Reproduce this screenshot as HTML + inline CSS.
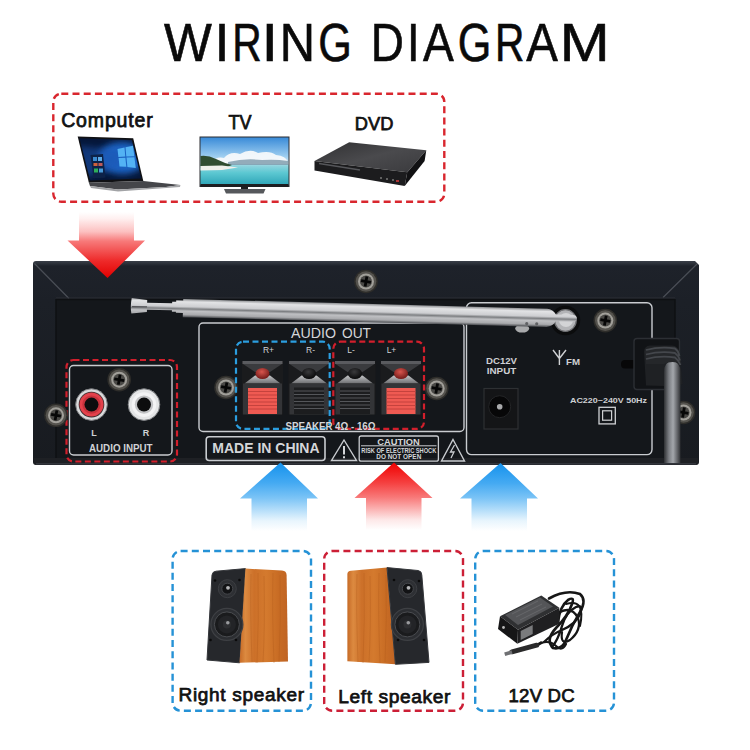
<!DOCTYPE html>
<html><head><meta charset="utf-8">
<style>
html,body{margin:0;padding:0;background:#fff;width:750px;height:750px;overflow:hidden}
svg{display:block;font-family:"Liberation Sans",sans-serif}
</style></head>
<body>
<svg width="750" height="750" viewBox="0 0 750 750">
<defs>
  <linearGradient id="gRedDown" x1="0" y1="0" x2="0" y2="1" gradientUnits="objectBoundingBox">
    <stop offset="0" stop-color="#fff"/>
    <stop offset="0.1" stop-color="#fff0f0"/>
    <stop offset="0.3" stop-color="#fcc0c0"/>
    <stop offset="0.44" stop-color="#f77a7a"/>
    <stop offset="0.74" stop-color="#ee2a2a"/>
    <stop offset="1" stop-color="#e20000"/>
  </linearGradient>
  <linearGradient id="gBlueUp" x1="0" y1="1" x2="0" y2="0">
    <stop offset="0" stop-color="#fff"/>
    <stop offset="0.15" stop-color="#e8f5fd"/>
    <stop offset="0.48" stop-color="#7cc4f6"/>
    <stop offset="0.7" stop-color="#45aaf2"/>
    <stop offset="1" stop-color="#1592ed"/>
  </linearGradient>
  <linearGradient id="gRedUp" x1="0" y1="1" x2="0" y2="0">
    <stop offset="0" stop-color="#fff"/>
    <stop offset="0.15" stop-color="#fde8e8"/>
    <stop offset="0.48" stop-color="#f87a7a"/>
    <stop offset="0.7" stop-color="#f54040"/>
    <stop offset="1" stop-color="#f00000"/>
  </linearGradient>
  <linearGradient id="gPanelTop" x1="0" y1="0" x2="0" y2="1">
    <stop offset="0" stop-color="#3a3f48"/>
    <stop offset="0.025" stop-color="#1e222a"/>
    <stop offset="0.2" stop-color="#1c2027"/>
    <stop offset="1" stop-color="#181b20"/>
  </linearGradient>
  <linearGradient id="gRod" x1="0" y1="0" x2="0" y2="1">
    <stop offset="0" stop-color="#8e9093"/>
    <stop offset="0.15" stop-color="#e2e3e5"/>
    <stop offset="0.42" stop-color="#cdced1"/>
    <stop offset="0.54" stop-color="#7d7f82"/>
    <stop offset="0.66" stop-color="#bfc0c3"/>
    <stop offset="0.86" stop-color="#a9aaad"/>
    <stop offset="1" stop-color="#4a4c50"/>
  </linearGradient>
  <radialGradient id="gScrew" cx="0.45" cy="0.4" r="0.6">
    <stop offset="0" stop-color="#8e8b84"/>
    <stop offset="0.7" stop-color="#5d5a55"/>
    <stop offset="1" stop-color="#2a2a2a"/>
  </radialGradient>

  <linearGradient id="gSky" x1="0" y1="0" x2="0" y2="1">
    <stop offset="0" stop-color="#3a8bd8"/>
    <stop offset="0.4" stop-color="#9ccdf0"/>
    <stop offset="0.55" stop-color="#d8ecf6"/>
    <stop offset="0.6" stop-color="#8fd4de"/>
    <stop offset="0.75" stop-color="#5cc8d2"/>
    <stop offset="1" stop-color="#2fa6b8"/>
  </linearGradient>
  <radialGradient id="gWin" cx="0.72" cy="0.45" r="0.55">
    <stop offset="0" stop-color="#9fe0ff"/>
    <stop offset="0.35" stop-color="#2b8ee0"/>
    <stop offset="1" stop-color="#0a2a6a"/>
  </radialGradient>
  <linearGradient id="gDvdTop" x1="0" y1="0" x2="1" y2="1">
    <stop offset="0" stop-color="#303032"/>
    <stop offset="0.5" stop-color="#4a4a4d"/>
    <stop offset="1" stop-color="#3a3a3d"/>
  </linearGradient>
  <linearGradient id="gWood" x1="0" y1="0" x2="1" y2="0">
    <stop offset="0" stop-color="#c66a26"/>
    <stop offset="0.12" stop-color="#dc8a40"/>
    <stop offset="0.3" stop-color="#cc7029"/>
    <stop offset="0.55" stop-color="#d47a2e"/>
    <stop offset="0.8" stop-color="#c86c24"/>
    <stop offset="1" stop-color="#c06424"/>
  </linearGradient>
  <radialGradient id="gCone" cx="0.5" cy="0.5" r="0.5">
    <stop offset="0" stop-color="#0c0c0c"/>
    <stop offset="0.35" stop-color="#3a3a3a"/>
    <stop offset="0.75" stop-color="#1c1c1c"/>
    <stop offset="1" stop-color="#555"/>
  </radialGradient>
  <g id="woodgrain">
    <path d="M7 4 Q6 40 8 92 M14 3 Q15 50 13 93 M20 6 Q21 60 19 92 M29 3 Q28 45 30 93 M36 5 Q37 50 35 92" fill="none" stroke="#b0581a" stroke-width="1" opacity="0.35"/>
  </g>
  <g id="screw">
    <circle r="11.8" fill="#2e2d2a"/>
    <circle r="10.3" fill="#55534e"/>
    <circle r="8" fill="#a19f99"/>
    <circle r="6" fill="#4a4946"/>
    <path d="M-5 -1.4 H5 V1.4 H-5 Z M-1.4 -5 H1.4 V5 H-1.4 Z" fill="#070707" transform="rotate(10)"/>
  </g>
</defs>

<!-- Title -->
<g>
<text transform="translate(164.11 60.8) scale(0.956 1)" font-size="53" fill="#0a0a0a" stroke="#0a0a0a" stroke-width="0.6">W</text>
<text transform="translate(214.50 60.8) scale(1.020 1)" font-size="53" fill="#0a0a0a" stroke="#0a0a0a" stroke-width="0.6">I</text>
<text transform="translate(232.20 60.8) scale(0.768 1)" font-size="53" fill="#0a0a0a" stroke="#0a0a0a" stroke-width="0.6">R</text>
<text transform="translate(261.40 60.8) scale(1.122 1)" font-size="53" fill="#0a0a0a" stroke="#0a0a0a" stroke-width="0.6">I</text>
<text transform="translate(279.73 60.8) scale(0.923 1)" font-size="53" fill="#0a0a0a" stroke="#0a0a0a" stroke-width="0.6">N</text>
<text transform="translate(318.30 60.8) scale(0.815 1)" font-size="53" fill="#0a0a0a" stroke="#0a0a0a" stroke-width="0.6">G</text>
<text transform="translate(370.78 60.8) scale(0.866 1)" font-size="53" fill="#0a0a0a" stroke="#0a0a0a" stroke-width="0.6">D</text>
<text transform="translate(406.90 60.8) scale(0.857 1)" font-size="53" fill="#0a0a0a" stroke="#0a0a0a" stroke-width="0.6">I</text>
<text transform="translate(423.01 60.8) scale(0.872 1)" font-size="53" fill="#0a0a0a" stroke="#0a0a0a" stroke-width="0.6">A</text>
<text transform="translate(457.70 60.8) scale(0.815 1)" font-size="53" fill="#0a0a0a" stroke="#0a0a0a" stroke-width="0.6">G</text>
<text transform="translate(495.00 60.8) scale(0.768 1)" font-size="53" fill="#0a0a0a" stroke="#0a0a0a" stroke-width="0.6">R</text>
<text transform="translate(526.21 60.8) scale(0.895 1)" font-size="53" fill="#0a0a0a" stroke="#0a0a0a" stroke-width="0.6">A</text>
<text transform="translate(559.83 60.8) scale(1.132 1)" font-size="53" fill="#0a0a0a" stroke="#0a0a0a" stroke-width="0.6">M</text>
</g>

<!-- Top dashed box -->
<rect x="53.3" y="93.7" width="391" height="108" rx="8" fill="none" stroke="#d9262e" stroke-width="2.4" stroke-dasharray="7 4.2"/>
<text x="61.2" y="127.4" font-size="19.5" fill="#111" stroke="#111" stroke-width="0.75" textLength="91.5" lengthAdjust="spacing">Computer</text>
<text x="228.6" y="129.3" font-size="19.6" fill="#111" stroke="#111" stroke-width="0.75" textLength="23" lengthAdjust="spacingAndGlyphs">TV</text>
<text x="354.8" y="130" font-size="19" fill="#111" stroke="#111" stroke-width="0.75" textLength="38.6" lengthAdjust="spacingAndGlyphs">DVD</text>

<!-- Panel -->
<path d="M36 261 H695 L699 265 V462 Q699 465 696 465 H36 Q33 465 33 462 V264 Q33 261 36 261 Z" fill="url(#gPanelTop)"/>
<!-- bevel lines -->
<rect x="56" y="299" width="619" height="163" fill="#14171b"/>
<path d="M34.5 263.5 L69 298.5 M697 264 L663 297.5" fill="none" stroke="#4a4e56" stroke-width="1.2"/>
<path d="M56 298 H675" stroke="#2c2f36" stroke-width="1"/>
<path d="M56 299.5 H675" stroke="#0e1013" stroke-width="1.5"/>
<path d="M56 299 V462" stroke="#0e1013" stroke-width="1.5"/>
<path d="M675 299 V462" stroke="#0e1013" stroke-width="1.5"/>
<path d="M34 458 H698 V462 Q698 464.5 695 464.5 H36 Q34 464.5 34 462 Z" fill="#1e2024"/>
<path d="M36 463.8 H696" stroke="#3a3d43" stroke-width="1.2"/>

<!-- Audio input -->
<rect x="66.5" y="360" width="110.5" height="101.5" rx="7" fill="none" stroke="#d21f2c" stroke-width="2.2" stroke-dasharray="6 3.5"/>
<rect x="69.5" y="365.5" width="102.5" height="89.5" rx="4" fill="none" stroke="#c9ccd0" stroke-width="1.4"/>
<use href="#screw" x="56" y="415.3"/>
<use href="#screw" x="119.2" y="379.7"/>
<g transform="translate(91.5 404.6)">
  <circle r="15.8" fill="#d9dadb" stroke="#7d7f82" stroke-width="1"/>
  <circle r="12.8" fill="#3a2a2c"/>
  <circle r="12" fill="#e3414b"/>
  <circle r="9.2" fill="#c8323c"/>
  <circle r="7" fill="#0d0d0e"/>
</g>
<g transform="translate(144 404.6)">
  <circle r="15.8" fill="#e4e5e6" stroke="#7d7f82" stroke-width="1"/>
  <circle r="12.3" fill="#f3f3f4"/>
  <circle r="9.2" fill="#c2c3c5"/>
  <circle r="7" fill="#0d0d0e"/>
</g>
<text x="94" y="435.8" font-size="9" font-weight="bold" fill="#d0d2d5" text-anchor="middle">L</text>
<text x="146" y="435.8" font-size="9" font-weight="bold" fill="#d0d2d5" text-anchor="middle">R</text>
<text x="89" y="452" font-size="10.5" font-weight="bold" fill="#d0d2d5" textLength="63.5" lengthAdjust="spacingAndGlyphs">AUDIO INPUT</text>

<!-- Audio out -->
<rect x="199" y="323" width="265" height="108.5" rx="4" fill="none" stroke="#c9ccd0" stroke-width="1.4"/>
<text x="291" y="337.5" font-size="14" fill="#d4d6d9" textLength="45" lengthAdjust="spacingAndGlyphs">AUDIO</text>
<text x="342" y="337.5" font-size="14" fill="#d4d6d9" textLength="29" lengthAdjust="spacingAndGlyphs">OUT</text>
<use href="#screw" x="226" y="387.5"/>
<use href="#screw" x="436.7" y="388.5"/>
<text x="268.5" y="353" font-size="8.5" fill="#d0d2d5" text-anchor="middle">R+</text>
<text x="310.5" y="353" font-size="8.5" fill="#d0d2d5" text-anchor="middle">R-</text>
<text x="351" y="353" font-size="8.5" fill="#d0d2d5" text-anchor="middle">L-</text>
<text x="391.5" y="353" font-size="8.5" fill="#d0d2d5" text-anchor="middle">L+</text>
<defs>
<linearGradient id="gTermLow" x1="0" y1="0" x2="0" y2="1"><stop offset="0" stop-color="#c4c5c7"/><stop offset="1" stop-color="#6d6e71"/></linearGradient>
<radialGradient id="gKnobRed" cx="0.45" cy="0.35" r="0.6"><stop offset="0" stop-color="#d8554d"/><stop offset="1" stop-color="#7a1f1c"/></radialGradient>
<radialGradient id="gKnobBlk" cx="0.45" cy="0.35" r="0.6"><stop offset="0" stop-color="#3a3a3c"/><stop offset="1" stop-color="#0c0c0d"/></radialGradient>
</defs>
<g id="term1" transform="translate(242 360.5)">
  <rect x="0" y="0.5" width="41" height="53.5" fill="#1a1b1d"/>
  <rect x="0.5" y="0.5" width="40" height="3" fill="#5a5b5f"/>
  <path d="M1 3.5 H40 L28 11.5 H13 Z" fill="#3a3b3e"/>
  <path d="M13 15 H28 L38.5 23 H2.5 Z" fill="url(#gTermLow)"/>
  <rect x="1" y="23" width="39" height="31" fill="#333437"/>
</g>
<g transform="translate(242 360.5)">
  <ellipse cx="20.5" cy="13" rx="7" ry="5.5" fill="url(#gKnobRed)"/>
  <rect x="6" y="27.5" width="29" height="26" fill="#ef5a52"/>
  <path d="M6 31H35M6 34.5H35M6 38H35M6 41.5H35M6 45H35M6 48.5H35" stroke="#bf403b" stroke-width="0.9"/>
</g>
<use href="#term1" x="46.5" y="0"/>
<g transform="translate(288.5 360.5)">
  <ellipse cx="20.5" cy="13" rx="7" ry="5.5" fill="url(#gKnobBlk)"/>
  <rect x="5.5" y="27" width="30" height="26.5" fill="#1c1d1f"/>
  <path d="M5.5 30.5H35.5M5.5 34H35.5M5.5 37.5H35.5M5.5 41H35.5M5.5 44.5H35.5M5.5 48H35.5" stroke="#54565a" stroke-width="1"/>
</g>
<use href="#term1" x="92.5" y="0"/>
<g transform="translate(334.5 360.5)">
  <ellipse cx="20.5" cy="13" rx="7" ry="5.5" fill="url(#gKnobBlk)"/>
  <rect x="5.5" y="27" width="30" height="26.5" fill="#1c1d1f"/>
  <path d="M5.5 30.5H35.5M5.5 34H35.5M5.5 37.5H35.5M5.5 41H35.5M5.5 44.5H35.5M5.5 48H35.5" stroke="#54565a" stroke-width="1"/>
</g>
<use href="#term1" x="138.5" y="0"/>
<g transform="translate(380.5 360.5)">
  <ellipse cx="20.5" cy="13" rx="7" ry="5.5" fill="url(#gKnobRed)"/>
  <rect x="6" y="27.5" width="29" height="26" fill="#ef5a52"/>
  <path d="M6 31H35M6 34.5H35M6 38H35M6 41.5H35M6 45H35M6 48.5H35" stroke="#bf403b" stroke-width="0.9"/>
</g>
<rect x="236" y="341.7" width="93.7" height="87.2" rx="7" fill="none" stroke="#2b9ee0" stroke-width="2.2" stroke-dasharray="6 3.5"/>
<rect x="333.3" y="341.7" width="90.7" height="87.2" rx="7" fill="none" stroke="#d21f2c" stroke-width="2.2" stroke-dasharray="6 3.5"/>
<text x="285.5" y="430" font-size="10.2" font-weight="bold" fill="#d4d6d9" textLength="90" lengthAdjust="spacingAndGlyphs">SPEAKER  4Ω - 16Ω</text>

<!-- Made in China -->
<rect x="206.2" y="436.7" width="118.8" height="23.8" rx="3" fill="none" stroke="#c9ccd0" stroke-width="1.6"/>
<text x="212.3" y="453" font-size="14" font-weight="bold" fill="#d4d6d9" textLength="107.3" lengthAdjust="spacingAndGlyphs">MADE IN CHINA</text>
<path d="M344 440 L356.5 460.5 H331.5 Z" fill="none" stroke="#c9ccd0" stroke-width="1.4"/>
<path d="M344 446 V454.5 M344 456.3 V458.3" stroke="#d4d6d9" stroke-width="2"/>
<rect x="359.2" y="436" width="79.2" height="25.2" rx="2" fill="none" stroke="#c9ccd0" stroke-width="1.3"/>
<path d="M361 445.8 H436.5" stroke="#c9ccd0" stroke-width="1"/>
<text x="398.5" y="444.6" font-size="9.5" font-weight="bold" fill="#d4d6d9" text-anchor="middle" textLength="42.5" lengthAdjust="spacingAndGlyphs">CAUTION</text>
<text x="398.8" y="452.5" font-size="6.5" font-weight="bold" fill="#d4d6d9" text-anchor="middle" textLength="75" lengthAdjust="spacingAndGlyphs">RISK OF ELECTRIC SHOCK</text>
<text x="398.8" y="458.5" font-size="6.5" font-weight="bold" fill="#d4d6d9" text-anchor="middle" textLength="45" lengthAdjust="spacingAndGlyphs">DO NOT OPEN</text>
<path d="M453 439.5 L464.5 461 H441.5 Z" fill="none" stroke="#c9ccd0" stroke-width="1.4"/>
<path d="M454.5 445 L450.5 452 H454 L451 458" fill="none" stroke="#c9ccd0" stroke-width="1.3"/>

<!-- Right section -->
<rect x="466.5" y="302.8" width="185.5" height="151.8" rx="5" fill="none" stroke="#c9ccd0" stroke-width="1.4"/>
<text x="501.5" y="363.5" font-size="9" font-weight="bold" fill="#cfd1d4" text-anchor="middle" textLength="31" lengthAdjust="spacingAndGlyphs">DC12V</text>
<text x="501.5" y="374" font-size="9" font-weight="bold" fill="#cfd1d4" text-anchor="middle" textLength="29.5" lengthAdjust="spacingAndGlyphs">INPUT</text>
<rect x="484" y="388.5" width="34" height="40.5" fill="#141517" stroke="#2e3033" stroke-width="1.2"/>
<circle cx="499.7" cy="406.7" r="11" fill="#070708" stroke="#242527" stroke-width="1"/>
<circle cx="499.7" cy="406.7" r="2.8" fill="#a9aaac"/>
<use href="#screw" x="605.3" y="320.6"/>
<use href="#screw" x="366" y="281.5"/>
<ellipse cx="522.2" cy="328.6" rx="7" ry="4" fill="#a9aaac"/>
<!-- FM -->
<path d="M553 350 L559.4 358.5 L566 350 M559.4 350 V365" fill="none" stroke="#cfd1d4" stroke-width="1.4"/>
<text x="566" y="364.8" font-size="8.5" font-weight="bold" fill="#cfd1d4" textLength="14" lengthAdjust="spacingAndGlyphs">FM</text>
<rect x="621" y="360" width="18" height="8.5" rx="4" fill="#070708"/>
<text x="570" y="403" font-size="7.8" font-weight="bold" fill="#cfd1d4" textLength="77" lengthAdjust="spacingAndGlyphs">AC220~240V 50Hz</text>
<rect x="599" y="407.3" width="16.3" height="16.6" fill="none" stroke="#cfd1d4" stroke-width="1.3"/>
<rect x="602.6" y="410.8" width="9" height="9.4" fill="none" stroke="#cfd1d4" stroke-width="1.2"/>
<use href="#screw" x="683.5" y="412.5"/>
<!-- power plug + cord -->
<defs><linearGradient id="gCord" x1="0" y1="0" x2="1" y2="0">
<stop offset="0" stop-color="#2e3033"/><stop offset="0.3" stop-color="#7c7f84"/><stop offset="0.55" stop-color="#a3a6ab"/><stop offset="0.8" stop-color="#64666a"/><stop offset="1" stop-color="#2e3033"/></linearGradient></defs>
<rect x="634" y="338.5" width="45.5" height="51" rx="3" fill="#111316" stroke="#2c2f34" stroke-width="1.4"/>
<path d="M644 352 Q644 346 650 345.5 L672 345.5 Q678 346 679.5 352 L682.5 384 Q676 387 664 386 L646 385.5 Z" fill="#1f2124"/>
<path d="M664 463 V372 Q664 362 672 361 Q680.5 362 680.5 372 L680.5 463 Z" fill="url(#gCord)"/>
<path d="M645 349 Q660 345 674 346.5 Q679 348 680 354 L681.5 364 Q672 360 664 364 L646 364 Z" fill="#25272a"/>
<path d="M646 350 Q661 346 675 348.5 Q678.5 351 679.5 356 M646 354.5 Q661 350.5 675 353 Q678.5 355.5 680 360.5 M646 359 Q661 355 675 357.5 Q678.5 360 680.5 365" fill="none" stroke="#44474c" stroke-width="1.8"/>

<!-- Antenna -->
<circle cx="565.4" cy="320.5" r="14.8" fill="#0b0c0d"/>
<circle cx="565.4" cy="320.5" r="10.8" fill="#b3b4b7" stroke="#707174" stroke-width="1.3"/>
<circle cx="566" cy="320" r="7" fill="#d3d4d6"/>
<g transform="translate(185 308.5) rotate(1.55)">
  <path d="M-53.5 -9 Q-55 -1 -53.5 6.5 L-38 4.5 V2.2 H-13 V3.5 H-9 V4.5 H-2 V8.7 H362 Q368 8 371 2.8 H388 Q392 2.8 392 -0.6 Q392 -4 388 -4 H371 Q368 -9 362 -9.5 H-2 V-8 H-9 V-6.5 H-13 V-4.8 H-38 V-7.5 Z" fill="url(#gRod)"/>
  <path d="M-53 -0.5 H-38" stroke="#55565a" stroke-width="1.3"/>
  
  <circle cx="342" cy="5.8" r="1.6" fill="#606164"/>
  <circle cx="352" cy="5.8" r="1.6" fill="#606164"/>
</g>

<!-- red arrow down -->
<path d="M79 212 H134 V240.5 H145 L107.5 278 L67.5 240.5 H79 Z" fill="url(#gRedDown)"/>

<!-- Bottom arrows -->
<path d="M280.5 462.5 L318 498.5 H307 V531 H251.5 V498.5 H240 Z" fill="url(#gBlueUp)"/>
<path d="M394 462.5 L432.5 498 H421.5 V530 H366 V498 H354.5 Z" fill="url(#gRedUp)"/>
<path d="M500.5 463 L538 498.5 H527 V531 H471.5 V498.5 H460 Z" fill="url(#gBlueUp)"/>

<!-- Laptop -->
<defs>
<filter id="blur3" x="-50%" y="-50%" width="200%" height="200%"><feGaussianBlur stdDeviation="3"/></filter>
<filter id="blur1" x="-20%" y="-20%" width="140%" height="140%"><feGaussianBlur stdDeviation="0.7"/></filter>
<clipPath id="clipScreen"><path d="M79.5 138.3 L131.8 140 L141.2 178.6 L90.2 180.6 Z"/></clipPath>
</defs>
<path d="M77.7 136.4 L133.2 138.3 L143.3 180.9 L88.9 182.8 Z" fill="#101114"/>
<g clip-path="url(#clipScreen)">
<rect x="75" y="135" width="70" height="50" fill="#06173a"/>
<ellipse cx="122" cy="158" rx="24" ry="16" fill="#1d64c4" filter="url(#blur3)"/>
<path d="M78 146 L120 150 L122 166 L84 178 Z" fill="#1a55b0" opacity="0.55" filter="url(#blur3)"/>
<g filter="url(#blur1)">
<path d="M117.5 149 L124.5 147.5 L125.3 156.6 L118.4 157 Z M125.5 147.3 L133 145.8 L134.3 156.3 L126.3 156.6 Z M118.6 158 L125.4 157.7 L126.3 166.8 L119.5 166.4 Z M126.5 157.6 L134.4 157.3 L135.8 168 L127.4 167.1 Z" fill="#52b2f4"/>
<path d="M90.5 155 L103 154 L105.5 177.5 L93.5 178.2 Z" fill="#0e2448"/>
<rect x="93" y="157" width="4" height="4" fill="#3a8ad0"/><rect x="98" y="157" width="4" height="4" fill="#5aaae8"/>
<rect x="93.5" y="163" width="4" height="3" fill="#d0603a"/><rect x="98.5" y="163" width="4" height="3" fill="#c05a5a"/>
<rect x="94" y="168.5" width="4" height="4" fill="#2fae5a"/><rect x="99" y="168.5" width="4" height="4" fill="#4a9ad8"/>
</g>
</g>
<path d="M88.9 182.8 L143.3 180.9 L180.4 185 L166 187 L118 189.5 L90 186 Z" fill="#45464a"/>
<path d="M90 186 L118 189.5 L166 187 L180.4 185 L180 187 L118 191.5 L91 188 Z" fill="#a2a3a6"/>

<!-- TV -->
<rect x="199.5" y="136.5" width="90" height="50.5" fill="#2c2d30"/>
<rect x="200.5" y="137.5" width="88" height="47" fill="url(#gSky)"/>
<path d="M212 163 Q216 156 224 158 Q230 151 240 154 Q250 148 258 153 Q270 150 276 155 Q286 156 288 162 L288 164 H210 Z" fill="#f6f9fb" opacity="0.95"/>
<path d="M228 162 Q245 158 262 160 Q276 159 288 161 V165 H228 Z" fill="#7a98aa" opacity="0.8"/>
<path d="M200.5 156 Q208 155 216 159 Q224 163 232 165 L226 167.5 L200.5 168 Z" fill="#2f4d30"/>
<path d="M200.5 166 L222 165.5 L238 167.5 L222 170 L200.5 170.5 Z" fill="#eef0ea"/>
<rect x="200.8" y="184" width="87.4" height="3" fill="#1d1e21"/>
<rect x="241" y="187" width="7" height="2.5" fill="#1e1f21"/>
<path d="M224 189 H265.5 L263.5 193.5 H226 Z" fill="#56585c"/>

<!-- DVD -->
<path d="M314.5 161 L349.2 142.3 L426.3 150.3 L407.3 172.3 Z" fill="url(#gDvdTop)"/>
<path d="M314.5 161 L407.3 172.3 L404.7 186.1 L314.5 170.5 Z" fill="#1c1c1e"/>
<path d="M407.3 172.3 L426.3 150.3 L424.6 161 L404.7 186.1 Z" fill="#111113"/>
<path d="M319 163.5 L360 170" stroke="#55565a" stroke-width="1.3"/>
<circle cx="381" cy="178" r="1" fill="#777"/>
<circle cx="387" cy="179" r="1" fill="#777"/>
<circle cx="393" cy="180" r="1" fill="#777"/>
<rect x="396" y="180" width="3" height="2" fill="#a33"/>

<!-- Right speaker -->
<path d="M207 660 L212 575 Q212.5 571.5 216 571.2 L245.5 568.6 L239.6 662.8 Z" fill="#26282c" stroke="#34363a" stroke-width="1"/>
<path d="M245.5 568.6 L282 570.6 Q286.5 571 286.6 575 L288 661.5 L239.6 662.8 Z" fill="url(#gWood)"/>
<g transform="translate(244 570)"><use href="#woodgrain"/></g>
<g id="drivers">
<circle cx="227.3" cy="588.7" r="9" fill="#2e3034" stroke="#3c3e42" stroke-width="1"/>
<circle cx="227.3" cy="588.7" r="5.5" fill="#121315" stroke="#45474b" stroke-width="1"/>
<circle cx="228" cy="587.8" r="1.9" fill="#b5b6b8"/>
<circle cx="226.9" cy="624.4" r="16" fill="#2c2e32" stroke="#3e4044" stroke-width="1.2"/>
<circle cx="226.9" cy="624.4" r="12.5" fill="#1a1b1d" stroke="#4a4c50" stroke-width="1"/>
<circle cx="226.9" cy="624.4" r="9" fill="#232427"/>
<circle cx="226.9" cy="624.4" r="4" fill="#2e2f32"/>
<circle cx="227.8" cy="622.8" r="1.8" fill="#9a9b9e"/>
</g>
<circle cx="215" cy="580.5" r="1.3" fill="#0a0a0a"/><circle cx="239.5" cy="580" r="1.3" fill="#0a0a0a"/>
<circle cx="210.5" cy="640" r="1.3" fill="#0a0a0a"/><circle cx="236" cy="640" r="1.3" fill="#0a0a0a"/>

<!-- Left speaker -->
<path d="M347.4 574 Q347.4 571.2 351 570.8 L387 567.6 L395.4 664.3 L347.4 661.2 Z" fill="url(#gWood)"/>
<g transform="translate(350 570)"><use href="#woodgrain"/></g>
<path d="M387 567.6 L418 570.5 Q421.8 571 421.8 575 L429 662.4 L395.4 664.3 Z" fill="#26282c" stroke="#34363a" stroke-width="1"/>
<use href="#drivers" x="180.5" y="0"/>
<circle cx="394" cy="580" r="1.3" fill="#0a0a0a"/><circle cx="419" cy="581" r="1.3" fill="#0a0a0a"/>
<circle cx="398" cy="640" r="1.3" fill="#0a0a0a"/><circle cx="424" cy="640" r="1.3" fill="#0a0a0a"/>

<!-- Adapter -->
<g fill="none" stroke="#161616" stroke-linecap="round">
<path d="M549 598.5 Q566 589 580 594 Q587 600 580 612 Q572 625 566 640 Q562 650 553 648 Q545 640 556 628 Q568 616 572 604 Q575 596 568 600 Q560 606 558 622" stroke-width="2.6"/>
<path d="M544 642 Q552 634 562 630 Q576 624 580 614 Q584 604 576 607 Q566 612 562 626 Q558 640 552 647" stroke-width="2.4"/>
<path d="M541 643 Q550 640 556 646 Q562 652 566 644" stroke-width="2.2"/>
<path d="M560 612 Q572 606 578 618 Q582 630 570 640 Q560 646 562 632" stroke-width="2.2"/>
<path d="M566 604 Q586 598 580 626" stroke-width="2"/>
</g>
<path d="M500 616.3 L541.3 595.4 L559.3 607.7 L518 629.7 Z" fill="#2f3032"/>
<path d="M505 615 L540 597.5 L553 606.5 L518 625 Z" fill="#545558"/>
<path d="M512 614 L538 601 M516 617 L542 604 M520 620 L546 607" stroke="#6a6b6e" stroke-width="0.8"/>
<path d="M500 616.3 L518 629.7 L517.3 643.7 L498 629 Z" fill="#161617"/>
<path d="M518 629.7 L559.3 607.7 L559.3 623.7 L517.3 643.7 Z" fill="#1f1f21"/>
<path d="M520.7 631 L532.7 625 L532.7 634 L520.7 640 Z" fill="#7a7b7d"/>
<circle cx="503.5" cy="627.5" r="1.4" fill="#bbb"/>
<path d="M542 642.3 L536 645.7" stroke="#151515" stroke-width="3"/>
<path d="M536.7 645.2 L512 651.8" stroke="#2a2a2b" stroke-width="5" stroke-linecap="round"/>
<path d="M512 652 L504.7 654.3" stroke="#6f7073" stroke-width="3.6"/>

<!-- Bottom dashed boxes -->
<rect x="172.6" y="551" width="138.4" height="159.7" rx="8" fill="none" stroke="#2592d6" stroke-width="2.4" stroke-dasharray="7 4.2"/>
<rect x="324.2" y="551" width="138.8" height="159.8" rx="8" fill="none" stroke="#cc1f36" stroke-width="2.4" stroke-dasharray="7 4.2"/>
<rect x="475.2" y="551" width="138.8" height="159.7" rx="8" fill="none" stroke="#2592d6" stroke-width="2.4" stroke-dasharray="7 4.2"/>
<text x="178.5" y="700.5" font-size="19" fill="#111" stroke="#111" stroke-width="0.75" textLength="125.5" lengthAdjust="spacing">Right speaker</text>
<text x="338.3" y="703.2" font-size="19.2" fill="#111" stroke="#111" stroke-width="0.75" textLength="112" lengthAdjust="spacing">Left speaker</text>
<text x="508.6" y="702.2" font-size="18.6" fill="#111" stroke="#111" stroke-width="0.75" textLength="66" lengthAdjust="spacing">12V DC</text>

</svg>
</body></html>
